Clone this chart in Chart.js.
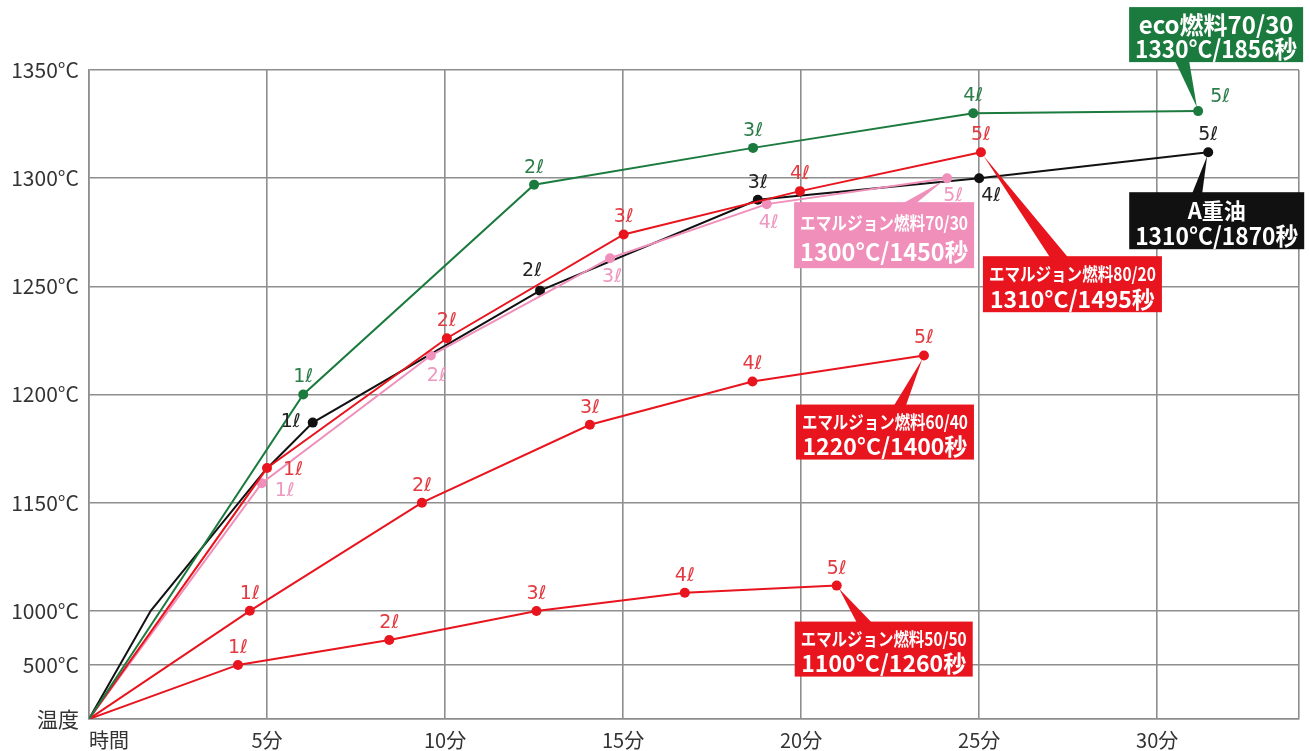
<!DOCTYPE html>
<html><head><meta charset="utf-8">
<script src="https://cdn.jsdelivr.net/npm/chart.js@4.4.1/dist/chart.umd.min.js"></script>
<style>html,body{margin:0;padding:0;background:#fff}canvas{display:block}</style>
</head><body>
<canvas id="c" width="1310" height="751"></canvas>
<script>
// ---- axis data ----
const timeTicks = [0, 300, 600, 900, 1200, 1500, 1800];           // seconds
const timeTickLabels = ['時間', '5分', '10分', '15分', '20分', '25分', '30分'];
const timeMax = 2039;
const tempTicks = [0, 500, 1000, 1150, 1200, 1250, 1300, 1350];  // °C
const tempTickLabels = ['温度', '500°C', '1000°C', '1150°C', '1200°C', '1250°C', '1300°C', '1350°C'];
const tempTickSlots = [0, 0.5, 1, 2, 3, 4, 5, 6];                 // axis slot of each tick (non-linear axis)

// ---- series data (time in seconds, temperature in °C) ----
const ecoTimes = [0, 361, 750, 1119, 1490, 1869];
const ecoTemps = [0, 1200, 1297, 1314, 1330, 1331];
const ecoLitres = ['', '1ℓ', '2ℓ', '3ℓ', '4ℓ', '5ℓ'];

const e8020Times = [0, 300, 603, 901, 1198, 1503];
const e8020Temps = [0, 1166, 1226, 1274, 1294, 1312];
const e8020Litres = ['', '1ℓ', '2ℓ', '3ℓ', '4ℓ', '5ℓ'];

const e7030Times = [0, 291, 576, 878, 1142, 1446];
const e7030Temps = [0, 1159, 1218, 1263, 1288, 1300];
const e7030Litres = ['', '1ℓ', '2ℓ', '3ℓ', '4ℓ', '5ℓ'];

const heavyTimes = [0, 104, 297, 377, 760, 1127, 1500, 1886];
const heavyTemps = [0, 1000, 1165, 1187, 1248, 1290, 1300, 1312];
const heavyLitres = ['', '', '', '1ℓ', '2ℓ', '3ℓ', '4ℓ', '5ℓ'];

const e6040Times = [0, 271, 561, 844, 1118, 1407];
const e6040Temps = [0, 1000, 1150, 1186, 1206, 1218];
const e6040Litres = ['', '1ℓ', '2ℓ', '3ℓ', '4ℓ', '5ℓ'];

const e5050Times = [0, 251, 506, 754, 1004, 1260];
const e5050Temps = [0, 500, 731, 998, 1025, 1035];
const e5050Litres = ['', '1ℓ', '2ℓ', '3ℓ', '4ℓ', '5ℓ'];

// ---- callout texts ----
const ecoCallout = ['eco燃料70/30', '1330°C/1856秒'];
const heavyCallout = ['A重油', '1310°C/1870秒'];
const e8020Callout = ['エマルジョン燃料80/20', '1310°C/1495秒'];
const e7030Callout = ['エマルジョン燃料70/30', '1300°C/1450秒'];
const e6040Callout = ['エマルジョン燃料60/40', '1220°C/1400秒'];
const e5050Callout = ['エマルジョン燃料50/50', '1100°C/1260秒'];

// piecewise mapping of temperature to axis slot
function toSlot(t) {
  for (let i = 1; i < tempTicks.length; i++) {
    if (t <= tempTicks[i] || i === tempTicks.length - 1) {
      const a = tempTicks[i - 1], b = tempTicks[i];
      return tempTickSlots[i - 1] + (t - a) / (b - a) * (tempTickSlots[i] - tempTickSlots[i - 1]);
    }
  }
}
function pts(times, temps) { return times.map((x, i) => ({ x: x, y: toSlot(temps[i]) })); }
function radii(litres) { return litres.map(l => l ? 5 : 0); }

const GREEN = '#1b7a3e', RED = '#e8141e', PINK = '#ef8fba', BLACK = '#111111';

function ds(label, times, temps, litres, color, labelColor, extra) {
  return Object.assign({
    label: label, data: pts(times, temps), litres: litres,
    borderColor: color, backgroundColor: color, borderWidth: 2,
    pointRadius: radii(litres), pointBackgroundColor: color, pointBorderWidth: 0,
    pointHoverRadius: radii(litres), tension: 0, fill: false,
    labelColor: labelColor, labelOffset: [0, -17], labelOverrides: {}
  }, extra || {});
}

const datasets = [
  ds('eco燃料70/30', ecoTimes, ecoTemps, ecoLitres, GREEN, '#2b7d4a',
     { labelOverrides: { 5: [22, -14] },
       callout: { text: ecoCallout, sizes: [24, 24], color: GREEN, box: [-69, -104, 174, 55], base: [-23, -9], side: 'bottom' } }),
  ds('エマルジョン燃料80/20', e8020Times, e8020Temps, e8020Litres, RED, '#e23a40',
     { labelOverrides: { 1: [26, 2] },
       callout: { text: e8020Callout, sizes: [18, 23], color: RED, box: [2, 104, 179, 56], base: [69, 87], side: 'top' } }),
  ds('エマルジョン燃料70/30', e7030Times, e7030Temps, e7030Litres, PINK, '#ee97bf',
     { labelOffset: [2, 19], labelOverrides: { 1: [23, 8], 2: [6, 21], 5: [6, 18] },
       callout: { text: e7030Callout, sizes: [18, 24], color: PINK, box: [-153, 24, 180, 66], base: [-44, -31], side: 'top' } }),
  ds('A重油', heavyTimes, heavyTemps, heavyLitres, BLACK, '#222222',
     { labelOverrides: { 3: [-22, -1], 4: [-8, -20], 6: [12, 18] },
       callout: { text: heavyCallout, sizes: [22, 24], color: BLACK, box: [-79, 40, 175, 57], base: [-16, -6], side: 'top' } }),
  ds('エマルジョン燃料60/40', e6040Times, e6040Temps, e6040Litres, RED, '#e23a40',
     { callout: { text: e6040Callout, sizes: [18, 23], color: RED, box: [-128, 49, 178, 55], base: [-30, -18], side: 'top' } }),
  ds('エマルジョン燃料50/50', e5050Times, e5050Temps, e5050Litres, RED, '#e23a40',
     { callout: { text: e5050Callout, sizes: [18, 23], color: RED, box: [-42, 36, 178, 55], base: [20, 35], side: 'top' } })
];

const pointLabelPlugin = {
  id: 'pointLabels',
  afterDatasetsDraw(chart) {
    const ctx = chart.ctx;
    ctx.save();
    ctx.font = '19px "DejaVu Sans", sans-serif';
    ctx.textAlign = 'center';
    ctx.textBaseline = 'middle';
    chart.data.datasets.forEach((d, di) => {
      const meta = chart.getDatasetMeta(di);
      d.litres.forEach((txt, i) => {
        if (!txt) return;
        const el = meta.data[i];
        const off = d.labelOverrides[i] || d.labelOffset;
        ctx.fillStyle = d.labelColor;
        ctx.fillText(txt, el.x + off[0], el.y + off[1]);
      });
    });
    ctx.restore();
  }
};

const calloutPlugin = {
  id: 'callouts',
  afterDatasetsDraw(chart) {
    const ctx = chart.ctx;
    ctx.save();
    chart.data.datasets.forEach((d, di) => {
      const c = d.callout;
      if (!c) return;
      const meta = chart.getDatasetMeta(di);
      const p = meta.data[meta.data.length - 1];
      const bx = p.x + c.box[0], by = p.y + c.box[1], bw = c.box[2], bh = c.box[3];
      const baseY = c.side === 'top' ? by + 1 : by + bh - 1;
      const b0 = p.x + c.base[0], b1 = p.x + c.base[1];
      const mx = (b0 + b1) / 2;
      const dx = mx - p.x, dy = baseY - p.y, len = Math.hypot(dx, dy);
      const tx = p.x + dx / len * 4, ty = p.y + dy / len * 4;
      ctx.fillStyle = c.color;
      ctx.beginPath();
      ctx.moveTo(b0, baseY); ctx.lineTo(b1, baseY); ctx.lineTo(tx, ty); ctx.closePath();
      ctx.fill();
      ctx.fillRect(bx, by, bw, bh);
      ctx.fillStyle = '#ffffff';
      ctx.textAlign = 'center';
      ctx.textBaseline = 'middle';
      const ys = [by + bh * 0.32, by + bh * 0.76];
      c.text.forEach((t, k) => {
        ctx.font = 'bold ' + c.sizes[k] + 'px "Noto Sans CJK JP", sans-serif';
        const w = ctx.measureText(t).width;
        const maxW = bw - 12;
        ctx.save();
        ctx.translate(bx + bw / 2, ys[k]);
        if (w > maxW) ctx.scale(maxW / w, 1);
        ctx.fillText(t, 0, 0);
        ctx.restore();
      });
    });
    ctx.restore();
  }
};

const gridColor = '#8e8e8e';
new Chart(document.getElementById('c'), {
  type: 'line',
  data: { datasets: datasets },
  options: {
    responsive: false,
    animation: false,
    devicePixelRatio: 1,
    layout: { padding: { left: 0, top: 70, right: 11, bottom: 0 } },
    plugins: { legend: { display: false }, tooltip: { enabled: false } },
    scales: {
      x: {
        type: 'linear', min: 0, max: timeMax,
        afterBuildTicks(scale) { scale.ticks = timeTicks.concat([timeMax]).map(v => ({ value: v })); },
        afterFit(scale) { scale.height = 32; },
        grid: { color: gridColor, lineWidth: 1.6, drawTicks: false },
        border: { color: gridColor, width: 1.6 },
        ticks: {
          autoSkip: false, maxRotation: 0, padding: 9, color: '#333',
          font: { family: '"Noto Sans CJK JP", sans-serif', size: 20 },
          callback(v) {
            const i = timeTicks.indexOf(v);
            if (i < 0) return '';
            return i === 0 ? '\u3000\u3000' + timeTickLabels[0] : timeTickLabels[i];
          }
        }
      },
      y: {
        type: 'linear', min: 0, max: 6,
        afterBuildTicks(scale) { scale.ticks = tempTickSlots.map(v => ({ value: v })); },
        afterFit(scale) { scale.width = 89; },
        grid: { color: gridColor, lineWidth: 1.6, drawTicks: false },
        border: { color: gridColor, width: 1.6 },
        ticks: {
          autoSkip: false, padding: 10, color: '#333',
          font: { family: '"Noto Sans CJK JP", sans-serif', size: 21 },
          callback(v) { const i = tempTickSlots.indexOf(v); return i < 0 ? '' : tempTickLabels[i]; }
        }
      }
    }
  },
  plugins: [pointLabelPlugin, calloutPlugin]
});
</script>
</body></html>
